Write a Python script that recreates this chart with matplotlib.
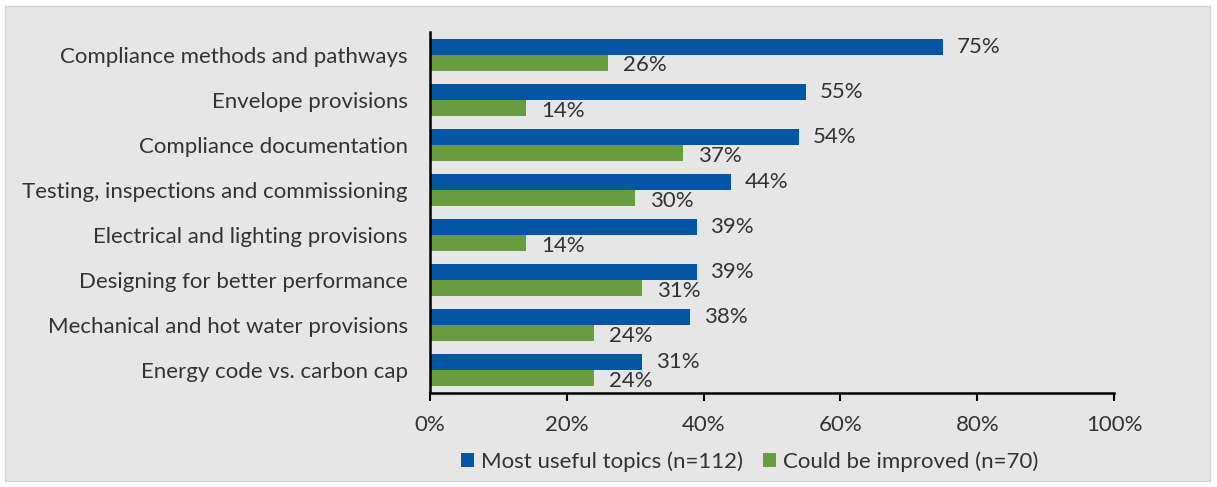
import numpy as np
import matplotlib.pyplot as plt
from matplotlib.patches import Rectangle

plt.rcParams['font.family'] = ['Lato', 'DejaVu Sans']

topics = ['Compliance methods and pathways', 'Envelope provisions',
          'Compliance documentation', 'Testing, inspections and commissioning',
          'Electrical and lighting provisions', 'Designing for better performance',
          'Mechanical and hot water provisions', 'Energy code vs. carbon cap']
most_useful = [75, 55, 54, 44, 39, 39, 38, 31]
could_improve = [26, 14, 37, 30, 14, 31, 24, 24]
xticks = [0, 20, 40, 60, 80, 100]

blue = '#0455a4'
green = '#699c41'
bg = '#e6e6e6'
txt = '#333333'
fs = 16

fig = plt.figure(figsize=(12.17, 4.87), dpi=100)
fig.patch.set_facecolor('white')
frame = Rectangle((0.004, 0.012), 0.99, 0.975, transform=fig.transFigure,
                  facecolor=bg, edgecolor='#d4d4d4', lw=1, zorder=-10)
fig.add_artist(frame)

ax = fig.add_axes([0.3533, 0.193, 0.5622, 0.741])
ax.patch.set_alpha(0)

y = np.arange(len(topics))
h = 0.355
ax.barh(y - h / 2, most_useful, height=h, color=blue, label='Most useful topics (n=112)')
ax.barh(y + h / 2, could_improve, height=h, color=green, label='Could be improved (n=70)')

# value labels: blue ones level with the bar, green ones a touch lower
for i in range(len(topics)):
    ax.text(most_useful[i] + 2.0, y[i] - h / 2, f'{most_useful[i]}%', va='center',
            ha='left', fontsize=fs, color=txt)
    ax.text(could_improve[i] + 2.2, y[i] + h / 2 + 0.06, f'{could_improve[i]}%', va='center',
            ha='left', fontsize=fs, color=txt)

ax.set_ylim(len(topics) - 0.5, -0.5)
ax.set_xlim(0, 100)
ax.set_yticks(y)
ax.set_yticklabels(topics, fontsize=fs, color=txt)
ax.set_xticks(xticks)
ax.set_xticklabels([f'{t}%' for t in xticks], fontsize=fs, color=txt)
ax.tick_params(axis='y', length=0, pad=16)
ax.tick_params(axis='x', direction='out', length=6, width=1.5, pad=10)
for s in ['top', 'right']:
    ax.spines[s].set_visible(False)
ax.spines['left'].set_linewidth(1.8)
ax.spines['bottom'].set_linewidth(1.8)

fig.legend(loc='center', bbox_to_anchor=(0.616, 0.052), ncol=2, frameon=False,
           fontsize=fs, handlelength=0.6, handleheight=0.6, handletextpad=0.3,
           columnspacing=0.9, labelcolor=txt)

fig.savefig('out.png', dpi=100, facecolor=fig.get_facecolor())
